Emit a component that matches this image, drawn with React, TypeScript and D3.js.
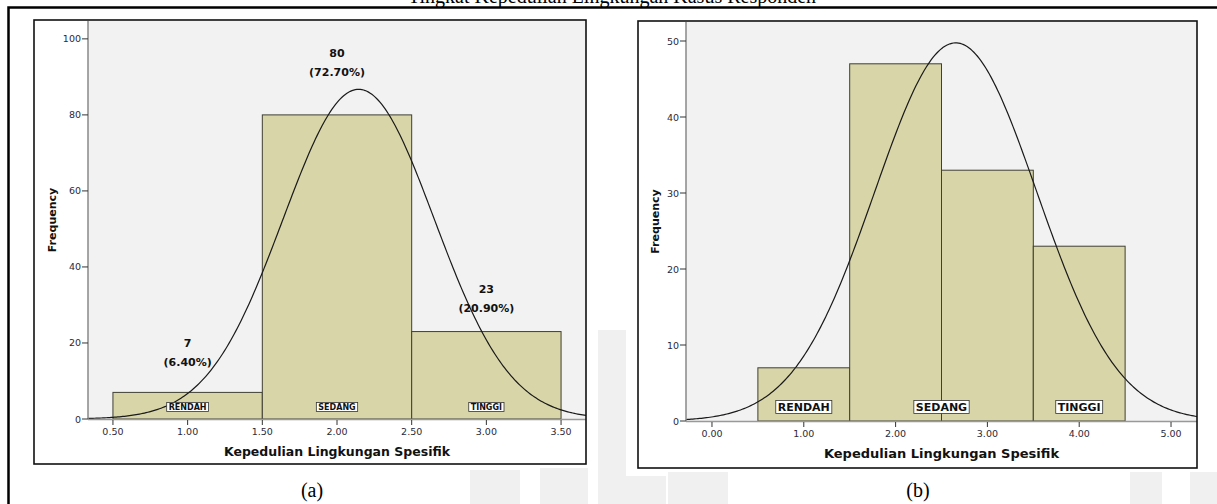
import React, { useRef, useEffect } from 'react';
import * as d3 from 'd3';

// ---- data ----
const categoriesA = ['RENDAH', 'SEDANG', 'TINGGI'];
const binStartsA = [0.5, 1.5, 2.5];
const countsA = [7, 80, 23];
const percentsA = ['6.40%', '72.70%', '20.90%'];
const labelAtA = [1.0, 2.0, 3.0];
const xTicksA = [0.5, 1.0, 1.5, 2.0, 2.5, 3.0, 3.5];
const yTicksA = [0, 20, 40, 60, 80, 100];
const meanA = 2.145;
const sdA = 0.506;

const categoriesB = ['RENDAH', 'SEDANG', 'TINGGI'];
const binStartsB = [0.5, 1.5, 2.5, 3.5];
const countsB = [7, 47, 33, 23];
const labelAtB = [1.0, 2.5, 4.0];
const xTicksB = [0, 1, 2, 3, 4, 5];
const yTicksB = [0, 10, 20, 30, 40, 50];
const meanB = 2.655;
const sdB = 0.882;

const total = 110;
const binWidth = 1;
const axisTitle = 'Kepedulian Lingkungan Spesifik';

const font = '"DejaVu Sans", Verdana, sans-serif';

type Panel = {
  frame: [number, number, number, number];
  plot: { left: number; right: number; top: number; bottom: number };
  xDomain: [number, number];
  yDomain: [number, number];
  starts: number[];
  counts: number[];
  categories: string[];
  labelAt: number[];
  xTicks: number[];
  yTicks: number[];
  mean: number;
  sd: number;
  catFont: number;
  titleSize: number;
  caption: string;
  captionX: number;
};

const panels: Panel[] = [
  {
    frame: [34, 20, 552, 444],
    plot: { left: 88, right: 586, top: 21, bottom: 419 },
    xDomain: [0.333, 3.667],
    yDomain: [0, 104.7],
    starts: binStartsA, counts: countsA, categories: categoriesA, labelAt: labelAtA,
    xTicks: xTicksA, yTicks: yTicksA, mean: meanA, sd: sdA,
    catFont: 8, titleSize: 12.5, caption: '(a)', captionX: 312,
  },
  {
    frame: [638, 21, 559, 447],
    plot: { left: 686, right: 1197, top: 22, bottom: 421 },
    xDomain: [-0.283, 5.283],
    yDomain: [0, 52.5],
    starts: binStartsB, counts: countsB, categories: categoriesB, labelAt: labelAtB,
    xTicks: xTicksB, yTicks: yTicksB, mean: meanB, sd: sdB,
    catFont: 11, titleSize: 13, caption: '(b)', captionX: 918,
  },
];

// vertical lift (px) of the count / percent labels above each bar in (a)
const liftA = [49, 61, 42];

const App = () => {
  const ref = useRef<SVGSVGElement | null>(null);

  useEffect(() => {
    const svg = d3.select(ref.current);
    svg.selectAll('*').remove();

    svg.append('rect').attr('width', 1217).attr('height', 504).attr('fill', 'white');

    // faint watermark bands behind the figure
    const wm = svg.append('g').attr('fill', '#f0f0f0');
    [[598, 330, 28, 174], [626, 476, 40, 28], [668, 472, 60, 32], [1130, 472, 32, 32], [1190, 472, 27, 32], [470, 470, 50, 34], [540, 468, 48, 36]]
      .forEach(([x, y, w, h]) => wm.append('rect').attr('x', x).attr('y', y).attr('width', w).attr('height', h));

    // heading, cut off by the top edge as in the source
    svg.append('text')
      .attr('x', 612).attr('y', 3)
      .attr('text-anchor', 'middle')
      .attr('font-family', '"Liberation Serif", "Times New Roman", serif')
      .attr('font-size', 20)
      .text('Tingkat Kepedulian Lingkungan Kasus Responden');

    // outer border
    svg.append('rect')
      .attr('x', 8.5).attr('y', 7.5).attr('width', 1240).attr('height', 520)
      .attr('fill', 'none').attr('stroke', 'black').attr('stroke-width', 2.5);

    panels.forEach((p, pi) => {
      const g = svg.append('g');
      const [fx, fy, fw, fh] = p.frame;

      g.append('rect').attr('x', fx).attr('y', fy).attr('width', fw).attr('height', fh)
        .attr('fill', 'white');

      const x = d3.scaleLinear(p.xDomain, [p.plot.left, p.plot.right]);
      const y = d3.scaleLinear(p.yDomain, [p.plot.bottom, p.plot.top]);

      g.append('rect')
        .attr('x', p.plot.left).attr('y', p.plot.top)
        .attr('width', p.plot.right - p.plot.left).attr('height', p.plot.bottom - p.plot.top)
        .attr('fill', '#f2f2f2');

      const clipId = `clip${pi}`;
      g.append('clipPath').attr('id', clipId).append('rect')
        .attr('x', p.plot.left).attr('y', p.plot.top)
        .attr('width', p.plot.right - p.plot.left).attr('height', p.plot.bottom - p.plot.top);

      // bars
      g.append('g').selectAll('rect').data(p.counts).join('rect')
        .attr('x', (_, i) => x(p.starts[i]))
        .attr('y', d => y(d))
        .attr('width', (_, i) => x(p.starts[i] + binWidth) - x(p.starts[i]))
        .attr('height', d => y(0) - y(d))
        .attr('fill', '#d8d5a8')
        .attr('stroke', '#3f3f33')
        .attr('stroke-width', 1);

      // fitted normal curve
      const norm = (v: number) =>
        total * binWidth / (p.sd * Math.sqrt(2 * Math.PI)) * Math.exp(-0.5 * ((v - p.mean) / p.sd) ** 2);
      const xs = d3.range(p.xDomain[0], p.xDomain[1] + 0.01, (p.xDomain[1] - p.xDomain[0]) / 300);
      const line = d3.line<number>().x(v => x(v)).y(v => y(norm(v)));
      g.append('path')
        .attr('clip-path', `url(#${clipId})`)
        .attr('d', line(xs))
        .attr('fill', 'none')
        .attr('stroke', '#1a1a1a')
        .attr('stroke-width', 1.2);

      // category labels in boxes
      p.categories.forEach((c, i) => {
        const cx = x(p.labelAt[i]);
        const cy = p.plot.bottom - (pi === 0 ? 12 : 14);
        const t = g.append('text')
          .attr('x', cx).attr('y', cy)
          .attr('text-anchor', 'middle')
          .attr('dominant-baseline', 'central')
          .attr('font-family', font)
          .attr('font-size', p.catFont)
          .attr('font-weight', 'bold')
          .attr('fill', '#111')
          .text(c);
        const bb = (t.node() as SVGTextElement).getBBox();
        g.insert('rect', () => t.node())
          .attr('x', bb.x - 2).attr('y', bb.y)
          .attr('width', bb.width + 4).attr('height', bb.height)
          .attr('fill', 'white').attr('stroke', '#333').attr('stroke-width', 0.8);
      });

      // axis lines
      g.append('line')
        .attr('x1', p.plot.left).attr('x2', p.plot.right)
        .attr('y1', p.plot.bottom + 0.5).attr('y2', p.plot.bottom + 0.5)
        .attr('stroke', '#999').attr('stroke-width', 1.5);
      g.append('line')
        .attr('x1', p.plot.left).attr('x2', p.plot.left)
        .attr('y1', p.plot.top).attr('y2', p.plot.bottom)
        .attr('stroke', '#888').attr('stroke-width', 1.5);

      // x ticks
      p.xTicks.forEach(v => {
        g.append('line')
          .attr('x1', x(v)).attr('x2', x(v))
          .attr('y1', p.plot.bottom + 1).attr('y2', p.plot.bottom + 6)
          .attr('stroke', '#333');
        g.append('text')
          .attr('x', x(v)).attr('y', p.plot.bottom + 12)
          .attr('text-anchor', 'middle').attr('dominant-baseline', 'central')
          .attr('font-family', font).attr('font-size', 9.5).attr('fill', '#2a2a3a')
          .text(d3.format('.2f')(v));
      });

      // y ticks
      p.yTicks.forEach(v => {
        g.append('line')
          .attr('x1', p.plot.left - 6).attr('x2', p.plot.left)
          .attr('y1', y(v)).attr('y2', y(v))
          .attr('stroke', '#333');
        g.append('text')
          .attr('x', p.plot.left - 7).attr('y', y(v))
          .attr('text-anchor', 'end').attr('dominant-baseline', 'central')
          .attr('font-family', font).attr('font-size', 9.5).attr('fill', '#2a2a3a')
          .text(v);
      });

      // axis titles
      g.append('text')
        .attr('x', (p.plot.left + p.plot.right) / 2).attr('y', p.plot.bottom + 32)
        .attr('text-anchor', 'middle').attr('dominant-baseline', 'central')
        .attr('font-family', font).attr('font-size', p.titleSize).attr('font-weight', 'bold')
        .attr('fill', '#111')
        .text(axisTitle);
      g.append('text')
        .attr('transform', `translate(${fx + (pi === 0 ? 18 : 17)},${(p.plot.top + p.plot.bottom) / 2}) rotate(-90)`)
        .attr('text-anchor', 'middle').attr('dominant-baseline', 'central')
        .attr('font-family', font).attr('font-size', 11).attr('font-weight', 'bold')
        .attr('fill', '#111')
        .text('Frequency');

      // frame
      g.append('rect').attr('x', fx).attr('y', fy).attr('width', fw).attr('height', fh)
        .attr('fill', 'none').attr('stroke', '#111').attr('stroke-width', 1.6);

      // caption
      svg.append('text')
        .attr('x', p.captionX).attr('y', 490)
        .attr('text-anchor', 'middle').attr('dominant-baseline', 'central')
        .attr('font-family', '"Liberation Serif", "Times New Roman", serif')
        .attr('font-size', 20)
        .text(p.caption);
    });

    // count and percent labels for (a)
    const pa = panels[0];
    const xa = d3.scaleLinear(pa.xDomain, [pa.plot.left, pa.plot.right]);
    const ya = d3.scaleLinear(pa.yDomain, [pa.plot.bottom, pa.plot.top]);
    countsA.forEach((c, i) => {
      const cx = xa(binStartsA[i] + binWidth / 2);
      const top = ya(c) - liftA[i];
      svg.append('text')
        .attr('x', cx).attr('y', top)
        .attr('text-anchor', 'middle').attr('dominant-baseline', 'central')
        .attr('font-family', font).attr('font-size', 11).attr('font-weight', 'bold')
        .attr('fill', '#111')
        .text(c);
      svg.append('text')
        .attr('x', cx).attr('y', top + 19)
        .attr('text-anchor', 'middle').attr('dominant-baseline', 'central')
        .attr('font-family', font).attr('font-size', 11).attr('font-weight', 'bold')
        .attr('fill', '#111')
        .text(`(${percentsA[i]})`);
    });
  }, []);

  return (
    <svg ref={ref} width={1217} height={504}
      style={{ position: 'absolute', left: 0, top: 0, display: 'block' }} />
  );
};

export default App;
